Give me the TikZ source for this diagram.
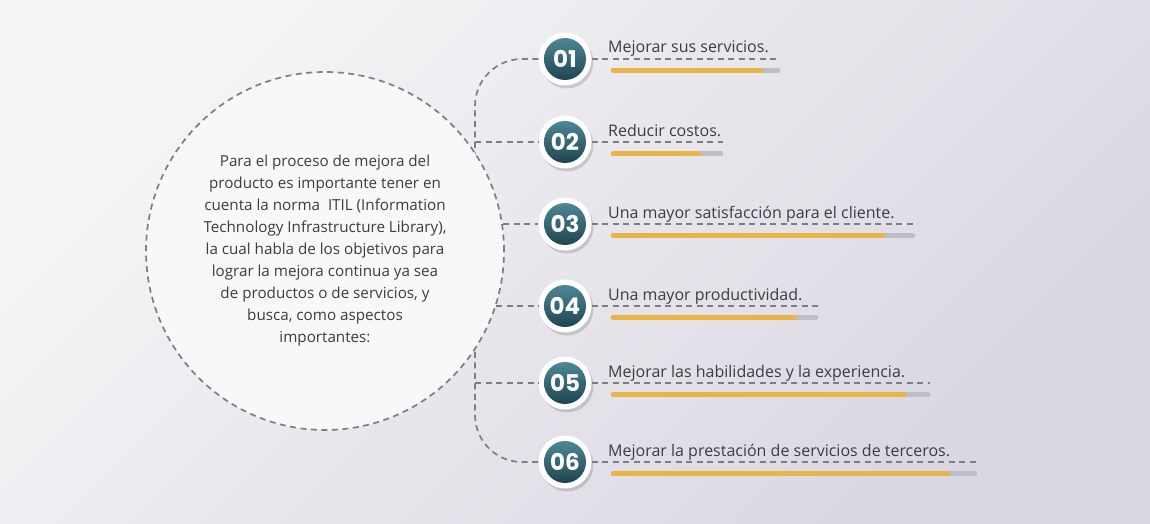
\documentclass[tikz,border=0pt]{standalone}
\usepackage{fontspec}
\setmainfont{Open Sans}
\newfontfamily\numfont{Poppins}
\usetikzlibrary{positioning,shadows}

\definecolor{bglight}{HTML}{F5F5F6}
\definecolor{bgdark}{HTML}{DAD6E2}
\definecolor{dashgray}{HTML}{7B7E86}
\definecolor{inkgray}{HTML}{3D3D40}
\definecolor{tealdark}{HTML}{1F4550}
\definecolor{teallight}{HTML}{4E8796}
\definecolor{baryellow}{HTML}{E9B446}
\definecolor{bargray}{HTML}{BDBFC7}
\definecolor{goalfill}{HTML}{F8F8F8}

\tikzset{
  dashline/.style={draw=dashgray, line width=1.7pt, dash pattern=on 6pt off 4.5pt},
  ring/.style={circle, fill=white, minimum size=53pt, inner sep=0pt,
    drop shadow={shadow xshift=2pt, shadow yshift=-3pt, opacity=.25, fill=black!60}},
  core/.style={circle, minimum size=42pt, inner sep=0pt, top color=teallight,
    bottom color=tealdark, text=white, font=\numfont\bfseries\fontsize{23}{23}\selectfont},
  aim/.style={anchor=base west, text=inkgray, inner sep=0pt,
    font=\fontsize{16}{19}\selectfont},
  bar/.style={line width=4.5pt, line cap=round},
}

\begin{document}
\begin{tikzpicture}[x=1pt, y=-1pt]
	\useasboundingbox (0,0) rectangle (1150,524);
	\shade[top color=bglight, bottom color=bgdark, shading angle=45] (0,0) rectangle (1150,524);

	% numbered aims
	\foreach \n/\y/\txt/\done/\full in {
		01/59/{Mejorar sus servicios.}/761/780,
		02/142/{Reducir costos.}/699/723,
		03/224/{Una mayor satisfacción para el cliente.}/883/915,
		04/306/{Una mayor productividad.}/795/818,
		05/383/{Mejorar las habilidades y la experiencia.}/905/930,
		06/462/{Mejorar la prestación de servicios de terceros.}/948/977}
	{
		\node[ring] (b\n) at (565,\y) {};
		\node[core] at (b\n) {\n};
		\node[aim] (t\n) at (608,\y-6) {\txt};
		\coordinate (e\n) at (\full,\y);
		\draw[dashline] (b\n.east) -- (e\n);
		\draw[bar, bargray] (613,\y+11.5) -- (\full-2,\y+11.5);
		\draw[bar, baryellow] (613,\y+11.5) -- (\done,\y+11.5);
	}

	\coordinate (spine) at (475,0);
	\draw[dashline, rounded corners=47pt] (b01.west) -| (spine |- b06.west) -- (b06.west);

	\node[circle, dashline, fill=goalfill, minimum size=358pt, align=center,
		text=inkgray, font=\fontsize{15.2}{22}\selectfont] (goal) at (325,251)
		{Para el proceso de mejora del\\ producto es importante tener en\\
		 cuenta la norma~ ITIL (Information\\ Technology Infrastructure Library),\\
		 la cual habla de los objetivos para\\ lograr la mejora continua ya sea\\
		 de productos o de servicios, y\\ busca, como aspectos\\ importantes:};

	\draw[dashline] (spine |- b02.west) -- (b02.west);
	\draw[dashline] (spine |- b05.west) -- (b05.west);
	\draw[dashline] (goal.8 |- b03.west) -- (b03.west);
	\draw[dashline] (goal.-18 |- b04.west) -- (b04.west);
\end{tikzpicture}
\end{document}
